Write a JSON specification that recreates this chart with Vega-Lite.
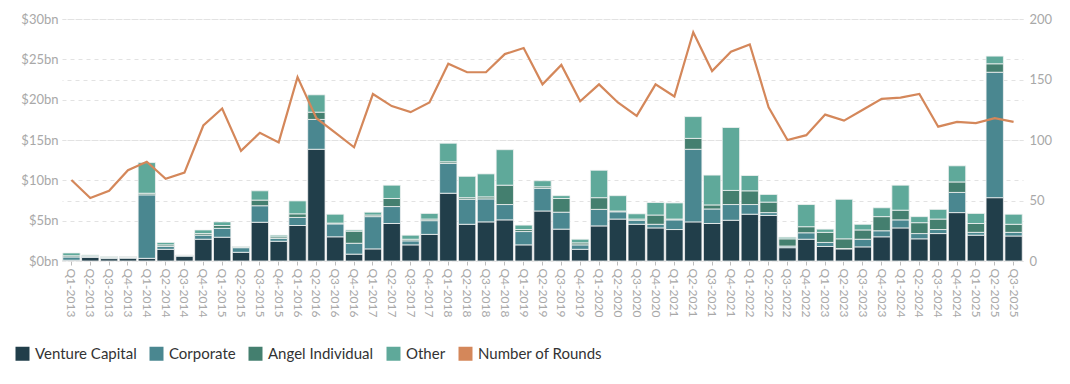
{
  "$schema": "https://vega.github.io/schema/vega-lite/v6.json",
  "width": 961,
  "height": 242,
  "autosize": {"type": "none"},
  "padding": {"left": 62, "top": 19, "right": 47, "bottom": 123},
  "background": "white",
  "config": {
    "view": {"stroke": null},
    "font": "Lato",
    "axis": {"labelFont": "Lato", "labelColor": "#a8a8a8", "labelFontSize": 13, "gridColor": "#e2e2e2", "gridDash": [4, 4], "domain": false, "ticks": false, "title": null}
  },
  "datasets": {
    "ranks": [
      {"type": "Venture Capital", "rank": 1},
      {"type": "Corporate", "rank": 2},
      {"type": "Angel Individual", "rank": 3},
      {"type": "Other", "rank": 4}
    ]
  },
  "data": {
    "values": [
      {"q": "Q1-2013", "Venture Capital": 0.1, "Corporate": 0.4, "Angel Individual": 0.15, "Other": 0.35, "rounds": 67},
      {"q": "Q2-2013", "Venture Capital": 0.45, "Corporate": 0.15, "Angel Individual": 0.05, "Other": 0.1, "rounds": 52},
      {"q": "Q3-2013", "Venture Capital": 0.3, "Corporate": 0.15, "Angel Individual": 0.0, "Other": 0.1, "rounds": 58},
      {"q": "Q4-2013", "Venture Capital": 0.35, "Corporate": 0.1, "Angel Individual": 0.05, "Other": 0.05, "rounds": 75},
      {"q": "Q1-2014", "Venture Capital": 0.33, "Corporate": 7.87, "Angel Individual": 0.2, "Other": 3.8, "rounds": 82},
      {"q": "Q2-2014", "Venture Capital": 1.45, "Corporate": 0.35, "Angel Individual": 0.2, "Other": 0.3, "rounds": 68},
      {"q": "Q3-2014", "Venture Capital": 0.6, "Corporate": 0.1, "Angel Individual": 0.0, "Other": 0.05, "rounds": 73},
      {"q": "Q4-2014", "Venture Capital": 2.7, "Corporate": 0.5, "Angel Individual": 0.2, "Other": 0.45, "rounds": 112},
      {"q": "Q1-2015", "Venture Capital": 2.95, "Corporate": 1.1, "Angel Individual": 0.35, "Other": 0.45, "rounds": 126},
      {"q": "Q2-2015", "Venture Capital": 1.08, "Corporate": 0.57, "Angel Individual": 0.05, "Other": 0.1, "rounds": 91},
      {"q": "Q3-2015", "Venture Capital": 4.8, "Corporate": 2.05, "Angel Individual": 0.7, "Other": 1.15, "rounds": 106},
      {"q": "Q4-2015", "Venture Capital": 2.45, "Corporate": 0.35, "Angel Individual": 0.2, "Other": 0.2, "rounds": 98},
      {"q": "Q1-2016", "Venture Capital": 4.4, "Corporate": 1.0, "Angel Individual": 0.45, "Other": 1.6, "rounds": 152},
      {"q": "Q2-2016", "Venture Capital": 13.85, "Corporate": 3.7, "Angel Individual": 0.9, "Other": 2.15, "rounds": 118},
      {"q": "Q3-2016", "Venture Capital": 3.0, "Corporate": 1.6, "Angel Individual": 0.1, "Other": 1.1, "rounds": 106},
      {"q": "Q4-2016", "Venture Capital": 0.85, "Corporate": 1.35, "Angel Individual": 1.5, "Other": 0.15, "rounds": 94},
      {"q": "Q1-2017", "Venture Capital": 1.5, "Corporate": 4.0, "Angel Individual": 0.2, "Other": 0.35, "rounds": 138},
      {"q": "Q2-2017", "Venture Capital": 4.65, "Corporate": 2.1, "Angel Individual": 1.0, "Other": 1.65, "rounds": 128},
      {"q": "Q3-2017", "Venture Capital": 2.0, "Corporate": 0.5, "Angel Individual": 0.2, "Other": 0.5, "rounds": 123},
      {"q": "Q4-2017", "Venture Capital": 3.3, "Corporate": 1.7, "Angel Individual": 0.2, "Other": 0.7, "rounds": 131},
      {"q": "Q1-2018", "Venture Capital": 8.4, "Corporate": 3.7, "Angel Individual": 0.2, "Other": 2.3, "rounds": 163},
      {"q": "Q2-2018", "Venture Capital": 4.55, "Corporate": 3.1, "Angel Individual": 0.2, "Other": 2.65, "rounds": 156},
      {"q": "Q3-2018", "Venture Capital": 4.85, "Corporate": 2.85, "Angel Individual": 0.25, "Other": 2.85, "rounds": 156},
      {"q": "Q4-2018", "Venture Capital": 5.1, "Corporate": 1.9, "Angel Individual": 2.4, "Other": 4.4, "rounds": 171},
      {"q": "Q1-2019", "Venture Capital": 2.0, "Corporate": 1.65, "Angel Individual": 0.25, "Other": 0.55, "rounds": 176},
      {"q": "Q2-2019", "Venture Capital": 6.2, "Corporate": 2.8, "Angel Individual": 0.2, "Other": 0.75, "rounds": 146},
      {"q": "Q3-2019", "Venture Capital": 3.95, "Corporate": 2.1, "Angel Individual": 1.7, "Other": 0.35, "rounds": 162},
      {"q": "Q4-2019", "Venture Capital": 1.45, "Corporate": 0.55, "Angel Individual": 0.25, "Other": 0.45, "rounds": 132},
      {"q": "Q1-2020", "Venture Capital": 4.35, "Corporate": 2.05, "Angel Individual": 1.45, "Other": 3.4, "rounds": 146},
      {"q": "Q2-2020", "Venture Capital": 5.2, "Corporate": 0.9, "Angel Individual": 0.1, "Other": 1.9, "rounds": 131},
      {"q": "Q3-2020", "Venture Capital": 4.55, "Corporate": 0.5, "Angel Individual": 0.15, "Other": 0.65, "rounds": 120},
      {"q": "Q4-2020", "Venture Capital": 4.1, "Corporate": 0.45, "Angel Individual": 1.15, "Other": 1.55, "rounds": 146},
      {"q": "Q1-2021", "Venture Capital": 3.9, "Corporate": 1.2, "Angel Individual": 0.1, "Other": 2.0, "rounds": 136},
      {"q": "Q2-2021", "Venture Capital": 4.85, "Corporate": 9.0, "Angel Individual": 1.35, "Other": 2.7, "rounds": 189},
      {"q": "Q3-2021", "Venture Capital": 4.65, "Corporate": 1.8, "Angel Individual": 0.5, "Other": 3.7, "rounds": 157},
      {"q": "Q4-2021", "Venture Capital": 5.05, "Corporate": 1.95, "Angel Individual": 1.75, "Other": 7.8, "rounds": 173},
      {"q": "Q1-2022", "Venture Capital": 5.8, "Corporate": 1.2, "Angel Individual": 1.7, "Other": 1.9, "rounds": 179},
      {"q": "Q2-2022", "Venture Capital": 5.65, "Corporate": 0.35, "Angel Individual": 1.3, "Other": 0.95, "rounds": 127},
      {"q": "Q3-2022", "Venture Capital": 1.65, "Corporate": 0.2, "Angel Individual": 0.9, "Other": 0.2, "rounds": 100},
      {"q": "Q4-2022", "Venture Capital": 2.7, "Corporate": 0.8, "Angel Individual": 0.75, "Other": 2.75, "rounds": 104},
      {"q": "Q1-2023", "Venture Capital": 1.8, "Corporate": 0.5, "Angel Individual": 1.25, "Other": 0.4, "rounds": 121},
      {"q": "Q2-2023", "Venture Capital": 1.5, "Corporate": 0.05, "Angel Individual": 1.2, "Other": 4.9, "rounds": 116},
      {"q": "Q3-2023", "Venture Capital": 1.75, "Corporate": 0.95, "Angel Individual": 1.15, "Other": 0.7, "rounds": 125},
      {"q": "Q4-2023", "Venture Capital": 3.0, "Corporate": 0.75, "Angel Individual": 1.75, "Other": 1.1, "rounds": 134},
      {"q": "Q1-2024", "Venture Capital": 4.1, "Corporate": 1.0, "Angel Individual": 1.2, "Other": 3.1, "rounds": 135},
      {"q": "Q2-2024", "Venture Capital": 2.75, "Corporate": 0.65, "Angel Individual": 1.35, "Other": 0.75, "rounds": 138},
      {"q": "Q3-2024", "Venture Capital": 3.4, "Corporate": 0.5, "Angel Individual": 1.3, "Other": 1.2, "rounds": 111},
      {"q": "Q4-2024", "Venture Capital": 6.0, "Corporate": 2.5, "Angel Individual": 1.3, "Other": 2.0, "rounds": 115},
      {"q": "Q1-2025", "Venture Capital": 3.2, "Corporate": 0.35, "Angel Individual": 1.1, "Other": 1.25, "rounds": 114},
      {"q": "Q2-2025", "Venture Capital": 7.85, "Corporate": 15.55, "Angel Individual": 1.05, "Other": 0.95, "rounds": 118},
      {"q": "Q3-2025", "Venture Capital": 3.1, "Corporate": 0.45, "Angel Individual": 1.0, "Other": 1.25, "rounds": 115}
    ]
  },
  "encoding": {
    "x": {
      "field": "q",
      "type": "ordinal",
      "sort": null,
      "scale": {"paddingInner": 0.08, "paddingOuter": 0.04},
      "axis": {"labelAngle": 90, "ticks": true, "tickSize": 4, "tickColor": "#bbbbbb", "labelPadding": 3, "labelFontSize": 12, "grid": false}
    }
  },
  "layer": [
    {
      "transform": [
        {"fold": ["Venture Capital", "Corporate", "Angel Individual", "Other"], "as": ["type", "value"]},
        {"lookup": "type", "from": {"data": {"name": "ranks"}, "key": "type", "fields": ["rank"]}}
      ],
      "mark": {"type": "bar", "stroke": "#f2f2f2", "strokeWidth": 0.8},
      "encoding": {
        "y": {
          "field": "value",
          "type": "quantitative",
          "stack": "zero",
          "scale": {"domain": [0, 30]},
          "axis": {"values": [0, 5, 10, 15, 20, 25, 30], "labelExpr": "'$' + datum.value + 'bn'", "labelPadding": 4, "grid": true, "orient": "left"}
        },
        "color": {
          "field": "type",
          "type": "nominal",
          "scale": {
            "domain": ["Venture Capital", "Corporate", "Angel Individual", "Other", "Number of Rounds"],
            "range": ["#213e4a", "#4a8790", "#447f6f", "#5fa99a", "#d4875a"]
          },
          "legend": {
            "title": null,
            "orient": "none",
            "direction": "horizontal",
            "legendX": -47,
            "legendY": 327,
            "symbolType": "square",
            "symbolSize": 196,
            "symbolStrokeWidth": 0,
            "symbolOpacity": 1,
            "labelFontSize": 15,
            "labelColor": "#333333",
            "labelFont": "Lato",
            "labelOffset": 5,
            "columnPadding": 12
          }
        },
        "order": {"field": "rank", "type": "quantitative", "sort": "ascending"}
      }
    },
    {
      "mark": {"type": "line", "strokeWidth": 2.2},
      "encoding": {
        "y": {
          "field": "rounds",
          "type": "quantitative",
          "scale": {"domain": [0, 200]},
          "axis": {"orient": "right", "values": [0, 50, 100, 150, 200], "grid": true, "labelPadding": 6}
        },
        "color": {"datum": "Number of Rounds"}
      }
    }
  ],
  "resolve": {"scale": {"y": "independent"}}
}
